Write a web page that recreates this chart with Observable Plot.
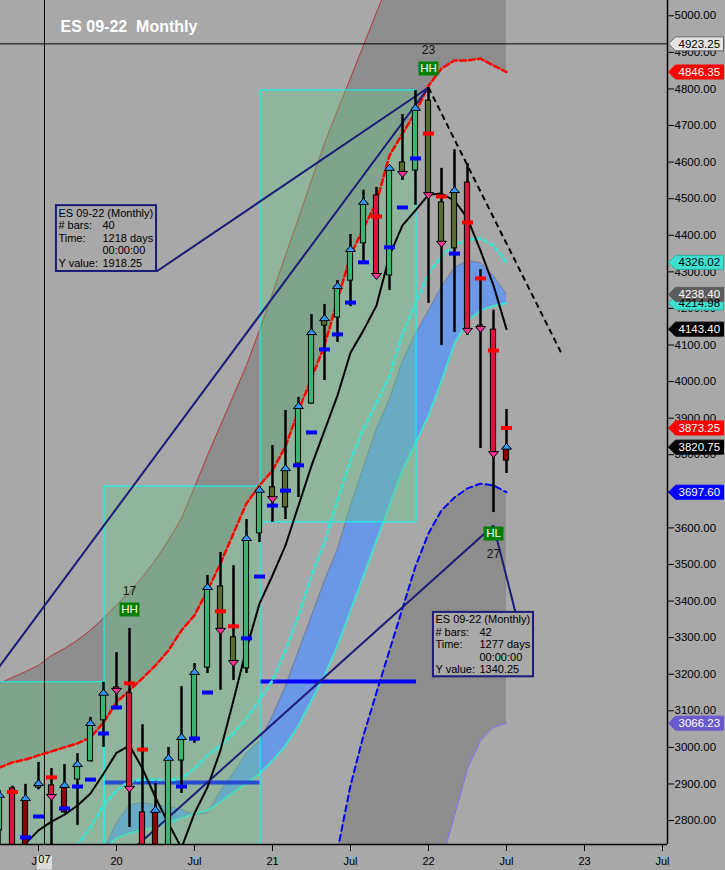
<!DOCTYPE html>
<html>
<head>
<meta charset="utf-8">
<script src="https://cdn.jsdelivr.net/npm/d3@7"></script>
<script src="https://cdn.jsdelivr.net/npm/@observablehq/plot@0.6"></script>
<style>
  html, body { margin: 0; padding: 0; background: #a8a8a8; }
  #chart { width: 725px; height: 870px; overflow: hidden; }
  svg text { white-space: pre; }
</style>
</head>
<body>
<div id="chart"></div>
<script>
// ---- monthly bars, ES 09-22 (Apr 2019 .. Jul 2022) ----
const barMonths = [
  "2019-04","2019-05","2019-06","2019-07","2019-08","2019-09","2019-10","2019-11","2019-12",
  "2020-01","2020-02","2020-03","2020-04","2020-05","2020-06","2020-07","2020-08","2020-09","2020-10","2020-11","2020-12",
  "2021-01","2021-02","2021-03","2021-04","2021-05","2021-06","2021-07","2021-08","2021-09","2021-10","2021-11","2021-12",
  "2022-01","2022-02","2022-03","2022-04","2022-05","2022-06","2022-07"
];
const barOpen = [2773,2888,2725,2890,2896,2822,2912,2962,3074,
  3164,3148,2822,2600,2720,2964,3027,3218,3440,3301,3216,3585,
  3711,3656,3776,3940,4153,4175,4276,4378,4509,4290,4599,4577,
  4768,4490,4364,4544,4153,4142,3784];
const barHigh = [2882,2894,2899,2959,2942,2953,2983,3082,3178,
  3259,3325,3062,2901,3000,3166,3229,3470,3533,3497,3623,3713,
  3825,3921,3957,4183,4211,4276,4402,4523,4531,4591,4730,4796,
  4804,4583,4634,4596,4306,4195,3924];
const barLow = [2720,2700,2700,2884,2725,2820,2787,2960,3000,
  3109,2781,2450,2550,2700,2874,3011,3202,3156,3183,3202,3560,
  3615,3623,3683,3938,4003,4107,4205,4326,4285,4249,4550,4482,
  4214,4099,4134,4126,3817,3642,3749];
const barClose = [2869,2725,2860,2901,2866,2896,2953,3065,3148,
  3156,2888,2600,2828,2970,3027,3205,3437,3320,3232,3571,3703,
  3680,3762,3932,4134,4172,4260,4361,4490,4290,4583,4569,4747,
  4511,4378,4522,4140,4145,3803,3820.75];
const barKind = ["up","down","weak","up","down","weak","up","up","up",
  "down","down","down","weak","up","up","up","up","flat","flat","up","up",
  "flat","flat","up","up","flat","up","up","up","down","up","flat","up",
  "flat","flat","flat","down","down","down","weak"];
// monthly pivot level (red above the close, blue below it)
const pivotLevel = [null,2878,2754,2811,2918,2833,2893,2912,3038,
  3109,3175,2994,null,null,2893,3024,3150,3372,3331,3298,3467,
  3661,3702,3771,3861,4088,4129,4216,4326,4451,4367,4476,4610,
  4678,4506,4350,4435,4282,4085,3873.25];

// ---- overlay studies ----
const upperOuter = [3175,3191,3207,3224,3251,3270,3293,3320,3353,
  3389,3424,3465,3512,3566,3626,3711,3798,3880,3962,4044,4140,
  4241,4345,4446,4550,4651,4741,4829,4919,5009,5096,null,null,
  null,null,null,null,null,null,null];
const upperInner = [2945,2959,2967,2978,2989,3000,3011,3027,3068,
  3123,3156,3189,3224,3265,3320,3361,3429,3503,3585,3667,3716,
  3757,3823,3921,4009,4099,4222,4345,4419,4490,4618,4678,4736,
  4809,4856,4878,4878,4883,4864,4846.35];
const lowerInner = [null,null,null,null,null,null,null,null,null,
  null,null,null,null,null,null,null,null,null,null,null,null,
  null,null,null,null,null,2718,2896,3033,3150,3265,3380,3495,
  3585,3648,3683,3708,3721,3716,3697.60];
const lowerOuter = [null,null,null,null,null,null,null,null,null,
  null,null,null,null,null,null,null,null,null,null,null,null,
  null,null,null,null,null,null,null,null,null,null,null,null,
  null,2690,2814,2942,3019,3055,3066.23];
const maLine = [2704,2718,2737,2773,2797,2816,2841,2874,2928,
  2985,3005,2942,2863,2792,2725,2820,2891,2992,3129,3270,3393,
  3470,3552,3661,3770,3866,3962,4079,4140,4208,4345,4427,4468,
  4511,4514,4495,4446,4358,4263,4143.40];
const signalLine = [null,null,null,null,null,null,2732,2781,2842,
  2882,2907,2912,2912,2910,2915,2942,2978,3005,3038,3079,3128,
  3183,3265,3360,3469,3560,3675,3784,3871,3940,4016,4131,4213,
  4295,4344,4374,4388,4391,4372,4326.02];
const cloudTop = [null,null,null,null,null,null,null,null,2718,
  2794,2843,2849,2843,2838,2830,2816,2821,2881,2930,2985,3018,
  3087,3168,3264,3360,3456,3543,3661,3767,3871,3953,4057,4131,
  4194,4260,4312,4330,4325,4289,4238.40];
const cloudBottom = [null,null,null,null,null,null,null,null,2718,
  2752,2765,2773,2784,2795,2806,2819,2828,2850,2877,2902,2928,
  2964,3005,3060,3128,3196,3278,3374,3469,3565,3661,3757,3831,
  3907,4002,4104,4166,4194,4207,4214.98];

// ---- yearly range boxes ----
const boxYears = [2019, 2020, 2021];
const boxRefLevel = [null, 2904, 3180];

// ---- measured trend lines ----
const trendFrom = ["2018-09", "2018-12"];
const trendTo = ["2022-01", "2022-06"];
const trendFromPrice = [2885.75, 2266.25];
const trendToPrice = [4804, 3606.5];
const trendDays = [1218, 1277];
// info box corners (month index, price)
const infoX1 = [-4.62, 24.38], infoX2 = [3.08, 32.08];
const infoY1 = [4481, 3369], infoY2 = [4301, 3193];
const infoLinkX = [3.08, 30.69];

// falling projection from the top
const fallFrom = {month: "2022-01", price: 4804};
const fallTo = {i: 34.3, price: 4072};

// swing labels
const swingMonths = ["2020-02", "2022-01", "2022-06"];
const swingType = ["HH", "HH", "HL"];
const swingCount = [17, 23, 27];

// cursor
const cursorIndex = -5.54;
const cursorPrice = 4923.25;
const cursorLabel = "07";

// axes
const xTickIndex = [-6, 0, 6, 12, 18, 24, 30, 36, 42];
const xTickLabels = ["Jul", "20", "Jul", "21", "Jul", "22", "Jul", "23", "Jul"];
const yTicks = d3.range(2800, 5001, 100);
const title = "ES 09-22  Monthly";

// ---------------------------------------------------------------
const xOf = m => { const [y, mo] = m.split("-").map(Number); return (y - 2020) * 12 + mo - 1; };
const xDomain = [-116 / 13, 551 / 13];
const yDomain = [2734.5, 5041.8];

const kindColor = {up: "#3cb371", down: "#dc143c", flat: "#556b2f", weak: "#8b0000"};

const bars = barMonths.map((m, k) => ({
  i: xOf(m), year: +m.slice(0, 4),
  open: barOpen[k], high: barHigh[k], low: barLow[k], close: barClose[k], kind: barKind[k],
  pivot: pivotLevel[k],
  upperOuter: upperOuter[k], upperInner: upperInner[k],
  lowerInner: lowerInner[k], lowerOuter: lowerOuter[k],
  ma: maLine[k], signal: signalLine[k],
  cloudTop: cloudTop[k], cloudBottom: cloudBottom[k]
}));

const boxes = boxYears.map((yr, k) => {
  const inYear = bars.filter(b => b.year === yr);
  return {
    x1: xOf(yr + "-01") - 0.92, x2: xOf(yr + "-12") + 0.08,
    high: d3.max(inYear, b => b.high), low: d3.min(inYear, b => b.low),
    ref: boxRefLevel[k]
  };
});

const trends = trendFrom.map((f, k) => ({
  x1: xOf(f), x2: xOf(trendTo[k]), y1: trendFromPrice[k], y2: trendToPrice[k],
  bars: xOf(trendTo[k]) - xOf(f), days: trendDays[k],
  bx1: infoX1[k], bx2: infoX2[k], by1: infoY1[k], by2: infoY2[k], lx: infoLinkX[k]
}));
trends[0].ly = infoY2[0];
trends[1].ly = infoY1[1];

const swings = swingMonths.map((m, k) => {
  const b = bars.find(d => d.i === xOf(m));
  return {i: b.i, type: swingType[k], count: swingCount[k], price: swingType[k] === "HH" ? b.high : b.low};
});
const highs = swings.filter(d => d.type === "HH");
const lows = swings.filter(d => d.type === "HL");

const last = arr => arr[arr.length - 1];
const tags = [
  {v: cursorPrice, bg: "#e4e4e4", fg: "#000", line: "#606060"},
  {v: last(upperInner), bg: "#ff0000", fg: "#fff", line: "#ff0000"},
  {v: last(signalLine), bg: "#40e0d0", fg: "#000", line: "#2ab0a0"},
  {v: last(cloudBottom), bg: "#40e0d0", fg: "#000", line: "#2ab0a0"},
  {v: last(cloudTop), bg: "#5c5c5c", fg: "#fff", line: "#5c5c5c"},
  {v: last(maLine), bg: "#000000", fg: "#fff", line: "#000"},
  {v: last(pivotLevel), bg: "#ff0000", fg: "#fff", line: "#ff0000"},
  {v: last(barClose), bg: "#000000", fg: "#fff", line: "#000"},
  {v: last(lowerInner), bg: "#0000ff", fg: "#fff", line: "#0000ff"},
  {v: last(lowerOuter), bg: "#6a5acd", fg: "#fff", line: "#6a5acd"}
];

// custom symbols
const rectSym = (w, h) => ({draw(ctx) { ctx.rect(-w / 2, -h / 2, w, h); }});
const triUp = {draw(ctx) { ctx.moveTo(0, -4); ctx.lineTo(5, 2); ctx.lineTo(-5, 2); ctx.closePath(); }};
const triDown = {draw(ctx) { ctx.moveTo(0, 4); ctx.lineTo(5, -2); ctx.lineTo(-5, -2); ctx.closePath(); }};
const tagSym = {draw(ctx) { ctx.moveTo(1, 0); ctx.lineTo(8, -7); ctx.lineTo(56, -7); ctx.lineTo(56, 7); ctx.lineTo(8, 7); ctx.closePath(); }};

const font = "'Liberation Sans', Arial, sans-serif";
const bandGray = "#8d8d8d";

const chart = Plot.plot({
  width: 725, height: 870,
  marginLeft: 0, marginRight: 58, marginTop: 0, marginBottom: 26,
  x: {domain: xDomain},
  y: {domain: yDomain},
  color: {type: "identity"},
  style: {background: "#a8a8a8", fontFamily: font, fontSize: "11px", color: "#000", overflow: "visible"},
  marks: [
    // outer envelope bands
    Plot.areaY(bars, {x: "i", y1: "upperInner", y2: d => d.upperOuter ?? yDomain[1], fill: bandGray, clip: true}),
    Plot.areaY(bars, {x: "i", y1: d => d.lowerInner == null ? null : (d.lowerOuter ?? yDomain[0] - 50), y2: "lowerInner", fill: bandGray, clip: true}),
    Plot.line(bars, {x: "i", y: "upperOuter", stroke: "#b83a3a", strokeWidth: 1, clip: true}),
    Plot.line(bars, {x: "i", y: "lowerOuter", stroke: "#7b68ee", strokeWidth: 1, clip: true}),

    // cloud
    Plot.areaY(bars, {x: "i", y1: "cloudBottom", y2: "cloudTop", fill: "#6495ed", fillOpacity: 0.9, clip: true}),
    Plot.line(bars, {x: "i", y: "cloudTop", stroke: "#7c7c8c", strokeWidth: 1, clip: true}),
    Plot.line(bars, {x: "i", y: "cloudBottom", stroke: "#40e0d0", strokeWidth: 2, clip: true}),

    // prior-year reference levels and yearly range boxes
    Plot.ruleY(boxes.filter(b => b.ref != null), {y: "ref", x1: "x1", x2: "x2", stroke: "#0000ff", strokeWidth: 4, clip: true}),
    Plot.rect(boxes, {x1: "x1", x2: "x2", y1: d => Math.max(d.low, yDomain[0] - 40), y2: "high", fill: "#66cc88", fillOpacity: 0.36, stroke: "#00ffff", strokeWidth: 1, clip: true}),

    // cursor
    Plot.ruleX([cursorIndex], {stroke: "#000", strokeWidth: 1}),
    Plot.ruleY([cursorPrice], {stroke: "#000", strokeWidth: 1}),

    // inner envelopes, averages
    Plot.line(bars, {x: "i", y: "upperInner", stroke: "#ff0000", strokeWidth: 2.5, strokeDasharray: "6,3", clip: true}),
    Plot.line(bars, {x: "i", y: "lowerInner", stroke: "#0000ff", strokeWidth: 2, strokeDasharray: "6,4", clip: true}),
    Plot.line(bars, {x: "i", y: "signal", stroke: "#40e0d0", strokeWidth: 3, strokeDasharray: "3,4", clip: true}),
    Plot.line(bars, {x: "i", y: "ma", stroke: "#000", strokeWidth: 2, clip: true}),

    // trend lines
    Plot.link(trends, {x1: "x1", y1: "y1", x2: "x2", y2: "y2", stroke: "#1c1c78", strokeWidth: 2, clip: true}),
    Plot.link(trends, {x1: "lx", y1: "ly", x2: "x2", y2: "y2", stroke: "#1c1c78", strokeWidth: 2, clip: true}),
    Plot.link([fallFrom], {x1: d => xOf(d.month), y1: "price", x2: () => fallTo.i, y2: () => fallTo.price, stroke: "#000", strokeWidth: 2, strokeDasharray: "6,4", clip: true}),

    // candles
    Plot.ruleX(bars, {x: "i", y1: "low", y2: "high", stroke: "#000", strokeWidth: 2.5, clip: true}),
    Plot.rect(bars, {x1: d => d.i - 0.2, x2: d => d.i + 0.2, y1: "open", y2: "close", fill: d => kindColor[d.kind], stroke: "#000", strokeWidth: 1, clip: true}),
    Plot.dot(bars.filter(d => d.pivot != null), {x: "i", y: "pivot", symbol: rectSym(11, 4), fill: d => d.pivot > d.close ? "#ff0000" : "#0000ff", stroke: "none", clip: true}),
    Plot.dot(bars.filter(d => d.close >= d.open), {x: "i", y: "close", symbol: triUp, fill: "#3399ff", stroke: "#000", strokeWidth: 1, clip: true}),
    Plot.dot(bars.filter(d => d.close < d.open), {x: "i", y: "close", symbol: triDown, fill: "#ff3399", stroke: "#000", strokeWidth: 1, clip: true}),

    // swing markers
    Plot.dot(highs, {x: "i", y: "price", dy: -19, symbol: rectSym(20, 14), fill: "#008000", stroke: "none"}),
    Plot.dot(lows, {x: "i", y: "price", dy: 21, symbol: rectSym(20, 14), fill: "#008000", stroke: "none"}),
    Plot.text(highs, {x: "i", y: "price", dy: -19, text: "type", fill: "#fff", fontSize: 11.5}),
    Plot.text(lows, {x: "i", y: "price", dy: 21, text: "type", fill: "#fff", fontSize: 11.5}),
    Plot.text(highs, {x: "i", y: "price", dy: -37, text: d => String(d.count), fill: "#111", fontSize: 12}),
    Plot.text(lows, {x: "i", y: "price", dy: 42, text: d => String(d.count), fill: "#111", fontSize: 12}),

    // info boxes
    Plot.rect(trends, {x1: "bx1", x2: "bx2", y1: "by1", y2: "by2", fill: "#a8a8a8", stroke: "#1c1c78", strokeWidth: 2}),
    Plot.text(trends, {x: "bx1", y: "by1", dx: 2, dy: 2, lineAnchor: "top", textAnchor: "start", lineHeight: 1.14, fontSize: 11, fill: "#000",
      text: () => "ES 09-22 (Monthly)\n# bars:\nTime:\n\nY value:"}),
    Plot.text(trends, {x: "bx1", y: "by1", dx: 46, dy: 2, lineAnchor: "top", textAnchor: "start", lineHeight: 1.14, fontSize: 11, fill: "#000",
      text: d => `\n${d.bars}\n${d.days} days\n00:00:00\n${(d.y2 - d.y1).toFixed(2)}`}),

    // axes
    Plot.axisY({anchor: "right", ticks: yTicks, tickFormat: d => d.toFixed(2), tickSize: 6, tickPadding: 1, fontSize: 11.5, label: null}),
    Plot.axisX({anchor: "bottom", ticks: xTickIndex, tickFormat: d => xTickLabels[xTickIndex.indexOf(d)], tickSize: 7, tickPadding: 6, fontSize: 11, label: null}),
    Plot.ruleX([xDomain[1]], {stroke: "#000", strokeWidth: 1.5}),
    Plot.ruleY([yDomain[0]], {stroke: "#000", strokeWidth: 1.5}),

    // cursor date label
    Plot.dot([cursorIndex], {x: d => d, frameAnchor: "bottom", dy: 18, symbol: rectSym(15, 14), fill: "#dcdcdc", stroke: "none"}),
    Plot.text([cursorLabel], {x: () => cursorIndex, frameAnchor: "bottom", dy: 18, text: d => d, fontSize: 11, fill: "#000"}),

    // last-value tags on the price axis
    Plot.dot(tags, {y: "v", frameAnchor: "right", symbol: tagSym, fill: "bg", stroke: "line", strokeWidth: 1}),
    Plot.text(tags, {y: "v", frameAnchor: "right", dx: 11, textAnchor: "start", text: d => d.v.toFixed(2), fill: "fg", fontSize: 11.5}),

    // title
    Plot.text([title], {frameAnchor: "top-left", dx: 60, dy: 31, lineAnchor: "bottom", textAnchor: "start", text: d => d, fill: "#fff", fontWeight: "bold", fontSize: 16})
  ]
});

document.getElementById("chart").append(chart);
</script>
</body>
</html>
